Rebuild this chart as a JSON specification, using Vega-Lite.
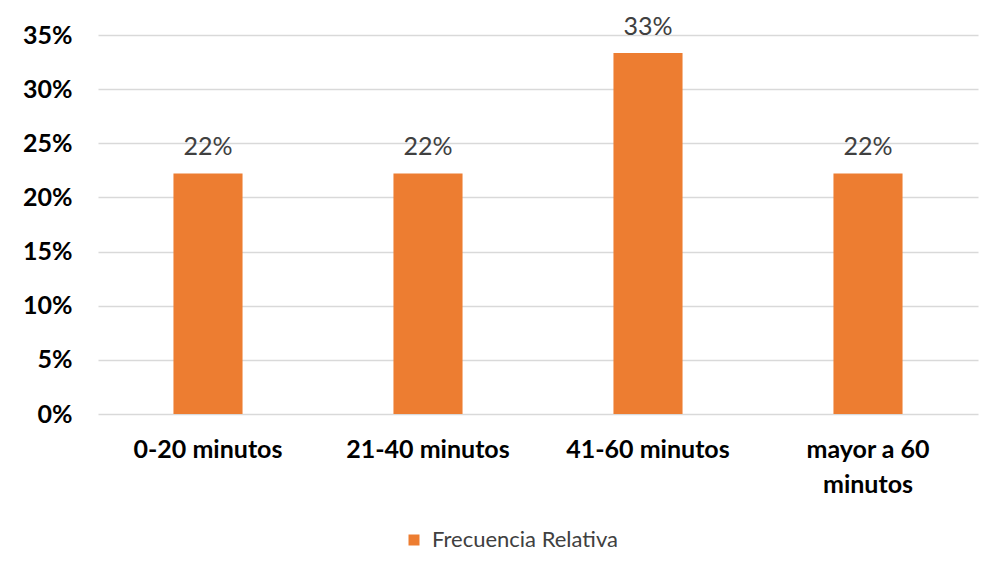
{
  "$schema": "https://vega.github.io/schema/vega-lite/v6.json",
  "width": 880,
  "height": 379,
  "autosize": {"type": "none"},
  "padding": {"left": 98, "top": 35, "right": 20, "bottom": 163},
  "background": "white",
  "config": {
    "font": "Lato",
    "view": {"stroke": null},
    "axis": {"grid": false, "domain": false, "ticks": false, "title": null}
  },
  "data": {
    "values": [
      {"rango": "0-20 minutos", "frecuencia": 0.2222},
      {"rango": "21-40 minutos", "frecuencia": 0.2222},
      {"rango": "41-60 minutos", "frecuencia": 0.3333},
      {"rango": "mayor a 60 minutos", "frecuencia": 0.2222}
    ]
  },
  "encoding": {
    "x": {
      "field": "rango",
      "type": "nominal",
      "sort": null,
      "scale": {"paddingInner": 0.686, "paddingOuter": 0.343},
      "axis": {
        "labelAngle": 0,
        "labelFont": "Lato",
        "labelFontSize": 25,
        "labelFontWeight": "bold",
        "labelColor": "#000000",
        "labelPadding": 23,
        "labelLineHeight": 35,
        "labelLimit": 300,
        "labelExpr": "datum.label == 'mayor a 60 minutos' ? ['mayor a 60', 'minutos'] : datum.label"
      }
    },
    "y": {
      "field": "frecuencia",
      "type": "quantitative",
      "scale": {"domain": [0, 0.35], "nice": false},
      "axis": {
        "values": [0, 0.05, 0.1, 0.15, 0.2, 0.25, 0.3, 0.35],
        "format": ".0%",
        "grid": true,
        "gridColor": "#d9d9d9",
        "gridWidth": 1.5,
        "labelFont": "Lato",
        "labelFontSize": 25,
        "labelFontWeight": "bold",
        "labelColor": "#000000",
        "labelPadding": 26
      }
    }
  },
  "layer": [
    {
      "mark": {"type": "bar"},
      "encoding": {
        "color": {
          "datum": "Frecuencia Relativa",
          "type": "nominal",
          "scale": {"range": ["#ED7D31"]},
          "legend": {
            "title": null,
            "orient": "none",
            "legendX": 305,
            "legendY": 494,
            "direction": "horizontal",
            "symbolType": "square",
            "symbolSize": 121,
            "symbolStrokeWidth": 0,
            "labelFont": "Lato",
            "labelFontSize": 22,
            "labelLimit": 400,
            "labelColor": "#404040",
            "labelOffset": 7
          }
        }
      }
    },
    {
      "mark": {"type": "text", "baseline": "bottom", "dy": -13, "fontSize": 25, "color": "#404040", "font": "Lato"},
      "encoding": {
        "text": {"field": "frecuencia", "type": "quantitative", "format": ".0%"}
      }
    }
  ]
}
